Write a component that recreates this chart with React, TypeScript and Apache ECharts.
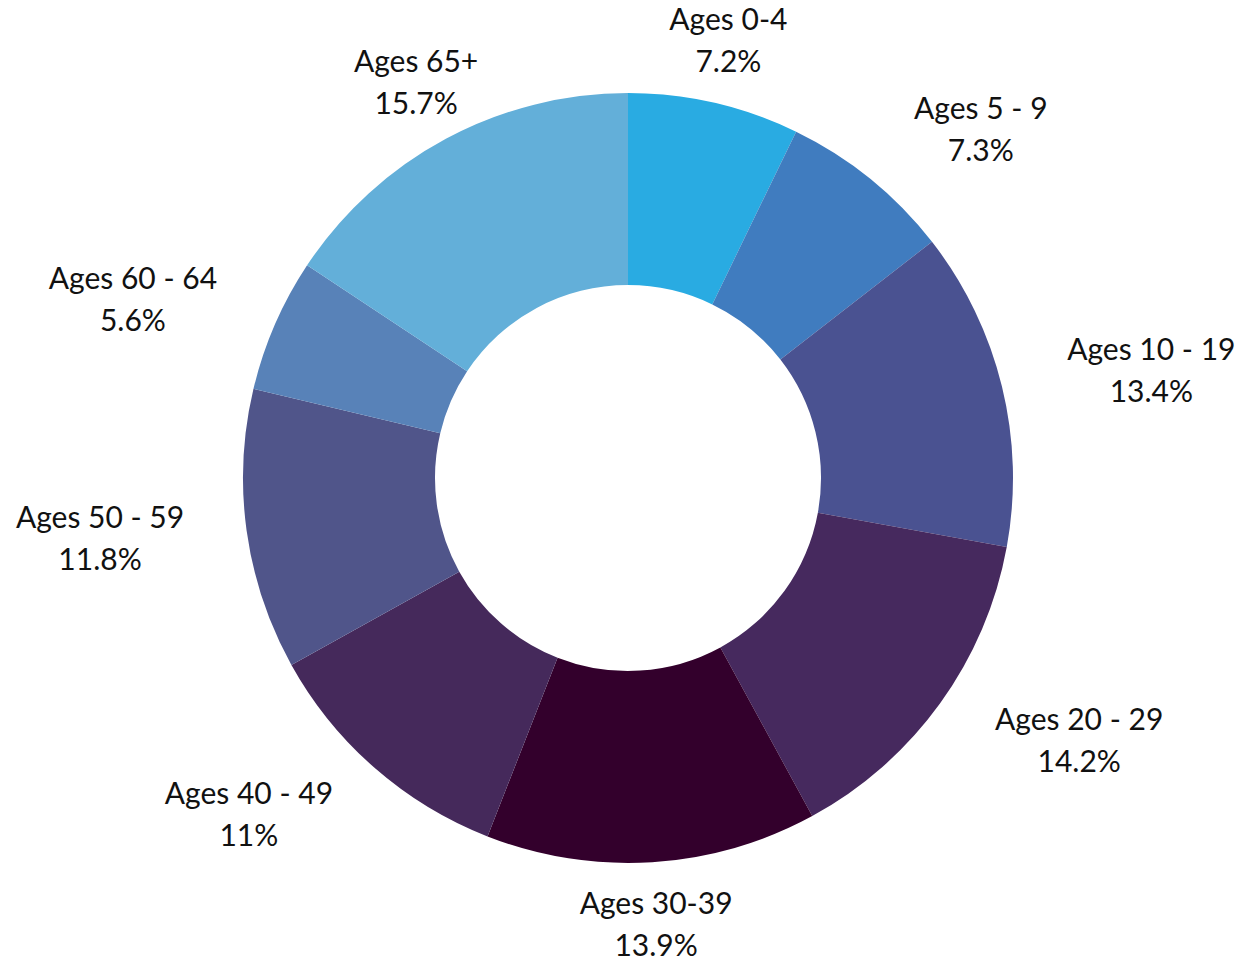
import React, { useEffect, useRef } from "react";
import * as echarts from "echarts";

const categories = ["Ages 0-4", "Ages 5 - 9", "Ages 10 - 19", "Ages 20 - 29", "Ages 30-39", "Ages 40 - 49", "Ages 50 - 59", "Ages 60 - 64", "Ages 65+"];
const values = [7.2, 7.3, 13.4, 14.2, 13.9, 11, 11.8, 5.6, 15.7];
const colors = ["#29ABE2", "#407CBF", "#4A5291", "#46295E", "#33002C", "#45295B", "#50558A", "#5882B8", "#63AFD9"];

export default function App() {
  const ref = useRef<HTMLDivElement>(null);
  useEffect(() => {
    document.body.style.margin = "0";
    const chart = echarts.init(ref.current!, null, { renderer: "svg" });
    const cx = 628;
    const cy = 478;
    chart.setOption({
      animation: false,
      series: [
        {
          type: "pie",
          center: [cx, cy],
          radius: [193, 385],
          startAngle: 90,
          clockwise: true,
          avoidLabelOverlap: false,
          data: categories.map((c, i) => ({ name: c, value: values[i], itemStyle: { color: colors[i] } })),
          label: {
            show: true,
            position: "outside",
            formatter: (p: any) => `${p.name}\n${p.value}%`,
            fontFamily: "Lato",
            fontSize: 30,
            lineHeight: 42,
            color: "#111111",
            align: "center",
          },
          labelLine: { show: false, length: 63, length2: 0 },
          labelLayout: (p: any) => {
            const pts = p.labelLinePoints;
            if (!pts) return {};
            const ax = pts[1][0];
            const ay = pts[1][1];
            const w = p.labelRect.width;
            const dx = ax - cx;
            const dy = ay - cy;
            const s = dx / Math.sqrt(dx * dx + dy * dy);
            let x = ax;
            if (s > 0.5) x = ax + w / 2 + 4;
            else if (s < -0.5) x = ax - w / 2;
            return { x, y: ay - 2, align: "center", verticalAlign: "middle" };
          },
        },
      ],
    });
    return () => chart.dispose();
  }, []);
  return <div ref={ref} style={{ width: 1255, height: 963 }} />;
}
